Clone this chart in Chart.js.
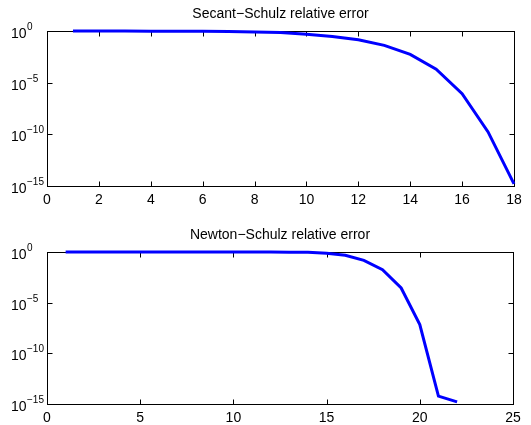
<!DOCTYPE html>
<html>
<head>
<meta charset="utf-8">
<script src="https://cdn.jsdelivr.net/npm/chart.js@4/dist/chart.umd.min.js"></script>
<style>
    body { margin: 0; background: #ffffff; }
    .panel { position: absolute; left: 0; }
    canvas { display: block; }
</style>
</head>
<body>
<div class="panel" style="top:0px"><canvas id="secantChart" width="531" height="212"></canvas></div>
<div class="panel" style="top:212px"><canvas id="newtonChart" width="531" height="213"></canvas></div>
<script>
// Данные: номер итерации и относительная ошибка
const secantIters = [1, 2, 3, 4, 5, 6, 7, 8, 9, 10, 11, 12, 13, 14, 15, 16, 17, 18];
const secantError = [1.0, 0.99, 0.98, 0.97, 0.95, 0.93, 0.9, 0.8, 0.7, 0.48, 0.3, 0.145, 0.041, 5.5e-3, 2e-4, 8.7e-7, 1.7e-10, 1.6e-15];

const newtonIters = [1, 2, 3, 4, 5, 6, 7, 8, 9, 10, 11, 12, 13, 14, 15, 16, 17, 18, 19, 20, 21, 22];
const newtonError = [1.0, 1.0, 1.0, 1.0, 1.0, 1.0, 1.0, 1.0, 0.99, 0.99, 0.99, 0.98, 0.97, 0.94, 0.74, 0.47, 0.15, 0.018, 2.8e-4, 6.9e-8, 6e-15, 1.6e-15];

// Подписи оси Y: 10^0 ... 10^-15
const yTickValues = [1, 1e-5, 1e-10, 1e-15];
const yTickExponents = ['0', '\u22125', '\u221210', '\u221215'];

const FONT = '"Liberation Sans", Arial, Helvetica, sans-serif';

// Рамка вокруг области графика и засечки внутрь (как в MATLAB)
const boxPlugin = {
    id: 'matlabBox',
    beforeDatasetsDraw(chart) {
        const { ctx, chartArea: a, scales } = chart;
        ctx.save();
        ctx.strokeStyle = '#000000';
        ctx.lineWidth = 1;
        const l = Math.round(a.left) + 0.5, r = Math.round(a.right) + 0.5;
        const t = Math.round(a.top) + 0.5, b = Math.round(a.bottom) + 0.5;
        ctx.strokeRect(l, t, r - l, b - t);
        const len = 5;
        ctx.beginPath();
        scales.x.ticks.forEach(tk => {
            const x = Math.round(scales.x.getPixelForValue(tk.value)) + 0.5;
            ctx.moveTo(x, b); ctx.lineTo(x, b - len);
            ctx.moveTo(x, t); ctx.lineTo(x, t + len);
        });
        yTickValues.forEach(v => {
            const y = Math.round(scales.y.getPixelForValue(v)) + 0.5;
            ctx.moveTo(l, y); ctx.lineTo(l + len, y);
            ctx.moveTo(r, y); ctx.lineTo(r - len, y);
        });
        ctx.stroke();
        ctx.restore();
    },
    afterDraw(chart) {
        const { ctx, chartArea: a, scales } = chart;
        ctx.save();
        ctx.fillStyle = '#000000';
        // Подписи 10 с показателем степени
        yTickValues.forEach((v, i) => {
            const y = scales.y.getPixelForValue(v);
            ctx.textAlign = 'left';
            ctx.textBaseline = 'alphabetic';
            ctx.font = '14px ' + FONT;
            ctx.fillText('10', 11, y + 7);
            ctx.font = '10px ' + FONT;
            ctx.fillText(yTickExponents[i], 27, y - 1);
        });
        // Заголовок по центру области графика
        ctx.font = '14px ' + FONT;
        ctx.textAlign = 'center';
        ctx.textBaseline = 'middle';
        ctx.fillText(chart.options.plugins.panelTitle.text, (a.left + a.right) / 2, a.top - 17);
        ctx.restore();
    }
};

function makeChart(canvasId, iters, errors, title, xMax, xStep, pad, xAxisHeight) {
    const ctx = document.getElementById(canvasId).getContext('2d');
    return new Chart(ctx, {
        type: 'line',
        data: {
            datasets: [{
                data: iters.map((x, i) => ({ x: x, y: errors[i] })),
                borderColor: '#0000ff',
                backgroundColor: 'transparent',
                borderWidth: 3,
                pointRadius: 0,
                tension: 0,
                clip: false
            }]
        },
        options: {
            responsive: false,
            animation: false,
            layout: { padding: pad },
            scales: {
                x: {
                    type: 'linear',
                    min: 0,
                    max: xMax,
                    grid: { display: false, drawTicks: false },
                    border: { display: false },
                    ticks: {
                        stepSize: xStep,
                        color: '#000000',
                        padding: 6,
                        maxRotation: 0,
                        font: { family: FONT, size: 14 }
                    },
                    afterFit(scale) { scale.height = xAxisHeight; }
                },
                y: {
                    type: 'logarithmic',
                    min: 1e-15,
                    max: 1,
                    grid: { display: false, drawTicks: false },
                    border: { display: false },
                    ticks: { display: false },
                    afterBuildTicks(scale) { scale.ticks = yTickValues.map(v => ({ value: v })); },
                    afterFit(scale) { scale.width = 47; }
                }
            },
            plugins: {
                legend: { display: false },
                tooltip: { enabled: false },
                panelTitle: { text: title }
            }
        },
        plugins: [boxPlugin]
    });
}

makeChart('secantChart', secantIters, secantError, 'Secant\u2212Schulz relative error', 18, 2,
    { top: 31, right: 17, left: 0, bottom: 0 }, 26);
makeChart('newtonChart', newtonIters, newtonError, 'Newton\u2212Schulz relative error', 25, 5,
    { top: 40, right: 18, left: 0, bottom: 0 }, 21);
</script>
</body>
</html>
